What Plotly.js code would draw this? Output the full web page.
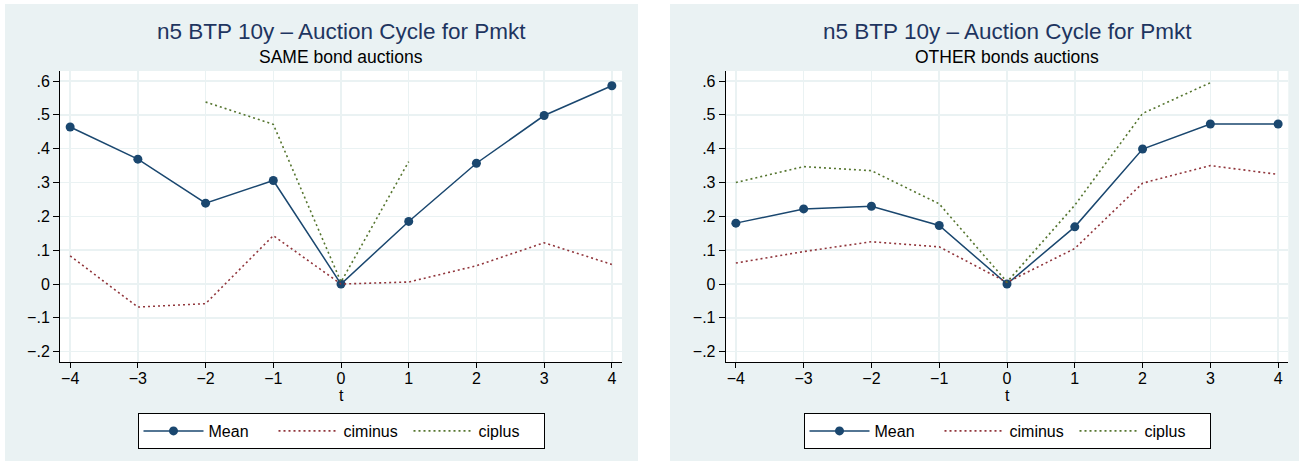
<!DOCTYPE html>
<html>
<head>
<meta charset="utf-8">
<script src="https://cdn.plot.ly/plotly-3.0.1.min.js"></script>
<style>html,body{margin:0;padding:0;background:#fff;}#chart{width:1299px;height:461px;}</style>
</head>
<body>
<div id="chart"></div>
<script>
// ---- data ----
const t = [-4, -3, -2, -1, 0, 1, 2, 3, 4];
const xTickLabels = ["\u22124", "\u22123", "\u22122", "\u22121", "0", "1", "2", "3", "4"];
const yTickVals = [0.6, 0.5, 0.4, 0.3, 0.2, 0.1, 0, -0.1, -0.2];
const yTickLabels = [".6", ".5", ".4", ".3", ".2", ".1", "0", "\u2212.1", "\u2212.2"];

const sameMean    = [0.464, 0.369, 0.239, 0.306, 0.000, 0.185, 0.357, 0.498, 0.586];
const sameCiminus = [0.083, -0.068, -0.058, 0.143, 0.000, 0.006, 0.054, 0.122, 0.058];
const sameCiplus  = [null, null, 0.538, 0.472, 0.006, 0.362, null, null, null];

const otherMean    = [0.180, 0.222, 0.230, 0.173, 0.000, 0.169, 0.399, 0.473, 0.473];
const otherCiminus = [0.062, 0.096, 0.125, 0.110, 0.005, 0.105, 0.298, 0.350, 0.324];
const otherCiplus  = [0.300, 0.347, 0.335, 0.237, 0.006, 0.233, 0.504, 0.595, null];

const mainTitle = "n5 BTP 10y \u2013 Auction Cycle for Pmkt";
const subTitles = ["SAME bond auctions", "OTHER bonds auctions"];
const seriesNames = ["Mean", "ciminus", "ciplus"];

// ---- styles ----
const W = 1299, H = 461;
const FONT = "Liberation Sans, Arial, Helvetica, sans-serif";
const navy = "#1a476f", maroon = "#90353b", green = "#55752f";
const bg = "#eaf2f3";
const px = v => v / W;
const py = v => (H - v) / H;

function traces(mean, lo, hi, xa, ya, leg) {
  return [
    {x: t, y: mean, name: seriesNames[0], type: "scatter", mode: "lines+markers",
     line: {color: navy, width: 1.5}, marker: {color: navy, size: 9},
     xaxis: xa, yaxis: ya, legend: leg, hoverinfo: "skip"},
    {x: t, y: lo, name: seriesNames[1], type: "scatter", mode: "lines",
     line: {color: maroon, width: 1.6, dash: "2px,3px"}, connectgaps: false,
     xaxis: xa, yaxis: ya, legend: leg, hoverinfo: "skip"},
    {x: t, y: hi, name: seriesNames[2], type: "scatter", mode: "lines",
     line: {color: green, width: 1.6, dash: "2px,3px"}, connectgaps: false,
     xaxis: xa, yaxis: ya, legend: leg, hoverinfo: "skip"}
  ];
}

const data = [].concat(
  traces(sameMean, sameCiminus, sameCiplus, "x", "y", "legend"),
  traces(otherMean, otherCiminus, otherCiplus, "x2", "y2", "legend2")
);

function xAxis(d0, d1, anchor) {
  return {domain: [px(d0), px(d1)], anchor: anchor, range: [-4.15, 4.15],
    tickmode: "array", tickvals: t, ticktext: xTickLabels,
    showgrid: true, gridcolor: bg, gridwidth: 1.5, zeroline: false,
    showline: true, linecolor: "#000", linewidth: 1,
    ticks: "outside", ticklen: 5, tickcolor: "#000", tickwidth: 1,
    ticklabelstandoff: -3,
    tickfont: {family: FONT, size: 16, color: "#000"}, fixedrange: true};
}
function yAxis(anchor) {
  return {domain: [py(362), py(71)], anchor: anchor, range: [-0.2304, 0.6296],
    tickmode: "array", tickvals: yTickVals, ticktext: yTickLabels,
    showgrid: true, gridcolor: bg, gridwidth: 1.5, zeroline: false,
    showline: true, linecolor: "#000", linewidth: 1,
    ticks: "outside", ticklen: 6, tickcolor: "#000", tickwidth: 1,
    tickfont: {family: FONT, size: 16, color: "#000"}, fixedrange: true};
}

const centers = [341, 1007];
const annotations = [];
centers.forEach((c, i) => {
  annotations.push({text: mainTitle, xref: "paper", yref: "paper", x: px(c), y: py(32),
    xanchor: "center", yanchor: "middle", showarrow: false,
    font: {family: FONT, size: 22.5, color: "#1e3560"}});
  annotations.push({text: subTitles[i], xref: "paper", yref: "paper", x: px(c), y: py(57),
    xanchor: "center", yanchor: "middle", showarrow: false,
    font: {family: FONT, size: 17.5, color: "#000"}});
  annotations.push({text: "t", xref: "paper", yref: "paper", x: px(c), y: py(395),
    xanchor: "center", yanchor: "middle", showarrow: false,
    font: {family: FONT, size: 16, color: "#000"}});
});

function legend(c) {
  return {orientation: "h", x: px(c), xanchor: "center", y: py(413), yanchor: "top",
    bgcolor: "#fff", bordercolor: "#000", borderwidth: 1,
    font: {family: FONT, size: 16, color: "#000"}, itemwidth: 60,
    entrywidth: 60, entrywidthmode: "pixels",
    itemclick: false, itemdoubleclick: false};
}

const layout = {
  width: W, height: H,
  margin: {l: 0, r: 0, t: 0, b: 0},
  paper_bgcolor: bg, plot_bgcolor: "#fff",
  showlegend: true,
  xaxis: xAxis(60, 622, "y"), yaxis: yAxis("x"),
  xaxis2: xAxis(725.7, 1288.3, "y2"), yaxis2: yAxis("x2"),
  legend: legend(centers[0]), legend2: legend(centers[1]),
  annotations: annotations,
  shapes: [
    {type: "rect", xref: "paper", yref: "paper", x0: 0, x1: 1, y0: py(4), y1: 1,
     fillcolor: "#fff", line: {width: 0}, layer: "below"},
    {type: "rect", xref: "paper", yref: "paper", x0: 0, x1: px(5), y0: 0, y1: 1,
     fillcolor: "#fff", line: {width: 0}, layer: "below"},
    {type: "rect", xref: "paper", yref: "paper", x0: px(638), x1: px(670), y0: 0, y1: 1,
     fillcolor: "#fff", line: {width: 0}, layer: "below"}
  ]
};

Plotly.newPlot("chart", data, layout, {displayModeBar: false, staticPlot: true});
</script>
</body>
</html>
